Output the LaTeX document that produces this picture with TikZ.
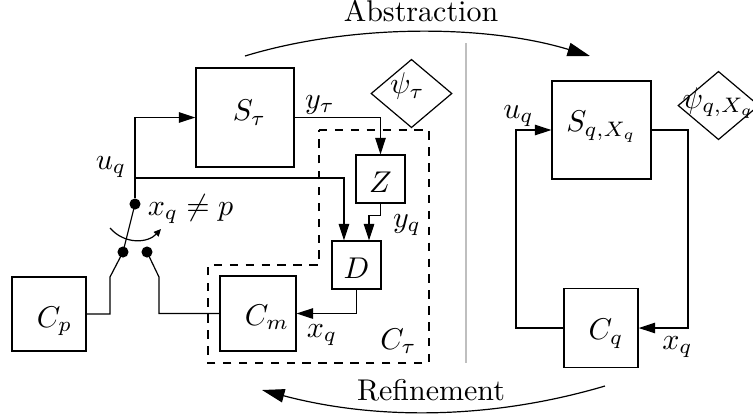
\documentclass[tikz,border=0pt]{standalone}
\usetikzlibrary{arrows.meta,shapes.geometric,calc}
\begin{document}
\begin{tikzpicture}[x=0.3333pt,y=-0.3333pt,
  blk/.style={draw, inner sep=0pt},
  lbl/.style={inner sep=0pt},
  arr/.style={-{Triangle[length=5.5pt,width=3.5pt]}},
  bigarr/.style={-{Triangle[length=7.5pt,width=4.5pt]}},
  smallarr/.style={-{Triangle[length=2.4pt,width=2.2pt]}},
  dot/.style={circle, fill, inner sep=0pt, minimum size=3.7pt},
  spec/.style={draw, diamond, inner sep=0pt, minimum width=27pt, minimum height=22.8pt},
  cbox/.style={dash pattern=on 2.8pt off 2.5pt},
  sep/.style={draw=gray!50}]
\useasboundingbox (0,0) rectangle (753,417);
\clip (0,0) rectangle (753,417);

% left part blocks
\node[blk, minimum width=24.7pt, minimum height=24.7pt, text height=9.5pt, text depth=0.8pt] (Cp) at (49,314) {\hspace{3.7pt}$C_p$};
\node[blk, minimum width=25.3pt, minimum height=25pt, text height=8.5pt, text depth=0.8pt] (Cm) at (258,313.5) {\hspace{6pt}$C_m$};
\node[blk, minimum width=32.7pt, minimum height=33pt, text height=5pt, text depth=2.7pt] (St) at (245,117.5) {\hspace{3pt}$S_\tau$};
\node[blk, minimum width=16.3pt, minimum height=16pt, text height=9.5pt, text depth=0.5pt] (Z) at (380.5,179) {$Z$};
\node[blk, minimum width=16.3pt, minimum height=16pt, text height=9.5pt, text depth=0.8pt] (D) at (356.5,265) {$D$};
\node[spec, text height=4pt, text depth=4pt] (psit) at (411.5,93.5) {\makebox[0pt]{$\psi_\tau$\hspace{2.7pt}}};

% switch
\node[dot] (s0) at (135,204) {};
\node[dot] (s1) at (123,252) {};
\node[dot] (s2) at (147,252) {};
\coordinate (k1) at (110,277);
\coordinate (k2) at (159,277);
\coordinate (j1) at (135,178);
\coordinate (sa) at (110,228);
\coordinate (sb) at (161,229);

\draw (s0.center) -- (s1.center);
\draw[smallarr] (sa) .. controls (125,245) and (148,243) .. (sb);
\draw (Cp.east) -| (k1) -- (s1.center);
\draw (s2.center) -- (k2) |- (Cm.west);

% connectors
\draw[arr] (s0) |- (St.west);
\draw[arr] (j1) -| ($(D.north west)!0.25!(D.north east)$);
\draw[arr] (St.east) -| (Z.north);
\draw[arr] (Z.south) -- ++(0,12) -| ($(D.north west)!0.75!(D.north east)$);
\draw[arr] (D.south) |- (Cm.east);

% dashed controller boundary
\draw[cbox] (319,130) -- (429,130) -- (429,363) -- (208,363) -- (208,265) -- (319,265) -- cycle;

% labels left
\node[lbl] (luq) at (111,167) {$u_q$};
\node[lbl] (lyt) at (320,104.5) {$y_\tau$};
\node[lbl] (lyq) at (407,225) {$y_q$};
\node[lbl] (lxq) at (322,335) {$x_q$};
\node[lbl] (lct) at (398.5,341) {$C_\tau$};
\node[lbl] (lsw) at (190.5,209) {$x_q \neq p$};

% separator
\draw[sep] (466,43) -- (466,363);

% right part
\node[blk, minimum width=33pt, minimum height=32.7pt, text height=4.5pt, text depth=3.2pt] (Sq) at (601.5,130) {$S_{q,X_q}$};
\node[blk, minimum width=24.7pt, minimum height=26.3pt, text height=8.5pt, text depth=0.8pt] (Cq) at (601,328) {\hspace{3.3pt}$C_q$};
\node[spec, text height=5pt, text depth=3.3pt] (psiq) at (718.5,105.5) {\makebox[0pt]{$\psi_{q,X_q}$}};
\coordinate (qr) at (688,130);
\coordinate (ql) at (516,130);
\draw[arr] (Sq.east) -- (qr) |- (Cq.east);
\draw[arr] (Cq.west) -| (ql) -- (Sq.west);
\node[lbl] (ruq) at (518.5,116) {$u_q$};
\node[lbl] (rxq) at (677.5,347) {$x_q$};

% abstraction / refinement
\coordinate (ab1) at (245,56);
\coordinate (ab2) at (590,56);
\coordinate (rf1) at (605,386);
\coordinate (rf2) at (262,390);
\draw[bigarr] (ab1) .. controls (350,24) and (485,24) .. (ab2);
\draw[bigarr] (rf1) .. controls (490,420) and (375,420) .. (rf2);
\node[lbl] (abs) at (421,11) {Abstraction};
\node[lbl] (ref) at (431,390.5) {Refinement};
\end{tikzpicture}
\end{document}
